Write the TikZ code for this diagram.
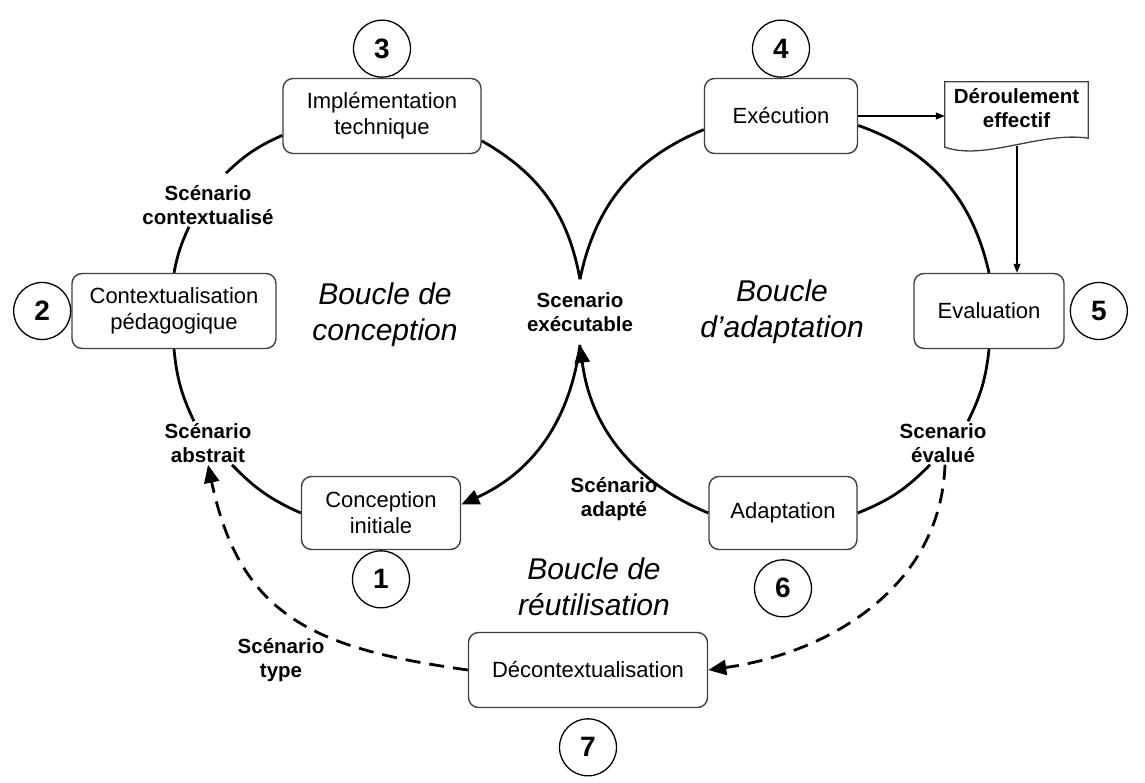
\documentclass[tikz,border=0pt]{standalone}
\usepackage{fontspec}
\setmainfont{Liberation Sans}
\usetikzlibrary{arrows.meta}
\usetikzlibrary{positioning}

\begin{document}
\begin{tikzpicture}[x=1pt,y=1pt,
	box/.style={draw=black!75, line width=1.4pt, rounded corners=10pt, align=center, inner sep=0pt, font=\fontsize{22}{26}\selectfont},
	num/.style={circle, draw, line width=1.3pt, minimum size=57pt, inner sep=0pt, font=\fontsize{28}{28}\selectfont\bfseries},
	lbl/.style={align=center, inner sep=2pt, font=\fontsize{20.5}{24}\selectfont\bfseries},
	loopname/.style={align=center, font=\fontsize{30}{36}\selectfont\itshape},
	loopline/.style={line width=2.8pt},
	bigtip/.style={-{Triangle[length=18pt,width=15pt]}},
	reuse/.style={line width=2.8pt, dash pattern=on 15pt off 9pt, -{Triangle[length=18pt,width=15pt]}},
	thinarrow/.style={line width=1.1pt, -{Triangle[length=9pt,width=7pt]}}]
	\useasboundingbox[fill=white] (0,0) rectangle (1145,783);

	\node[box, minimum width=198pt, minimum height=75pt] (impl) at (382,667) {Implémentation\\technique};
	\node[box, minimum width=204pt, minimum height=75pt] (ctx) at (174,472) {Contextualisation\\pédagogique};
	\node[box, minimum width=159pt, minimum height=73pt] (ci) at (381,270) {Conception\\initiale};
	\node[box, minimum width=153pt, minimum height=75pt] (exe) at (781,667) {Exécution};
	\node[box, minimum width=150pt, minimum height=75pt] (eval) at (989,472) {Evaluation};
	\node[box, minimum width=148pt, minimum height=73pt] (adp) at (783,270) {Adaptation};
	\node[box, minimum width=239pt, minimum height=75pt] (dec) at (588,113) {Décontextualisation};

	\node[num, left=0pt of ctx] (n2) {2};
	\node[num, above=0pt of impl] (n3) {3};
	\node[num, below=0pt of ci] (n1) {1};
	\node[num, above=0pt of exe] (n4) {4};
	\node[num, right=5pt of eval] (n5) {5};
	\node[num, below=9pt of adp] (n6) {6};
	\node[num, below=10pt of dec] (n7) {7};

	\node[lbl] (lblctx) at (208,578) {Scénario\\contextualisé};
	\node[lbl, inner ysep=13pt] (lblexe) at (580,471) {Scenario\\exécutable};
	\node[lbl] (lblabs) at (208,340) {Scénario\\abstrait};
	\node[lbl] (lblev) at (943,340) {Scenario\\évalué};
	\node[lbl] (lbladp) at (614,284) {Scénario\\adapté};
	\node[lbl] (lbltype) at (281,123) {Scénario\\type};

	\node[loopname] (bconc) at (385,468) {Boucle de\\conception};
	\node[loopname] (badap) at (782,471) {Boucle\\d’adaptation};
	\node[loopname] (breut) at (594,196) {Boucle de\\réutilisation};

	\node[lbl, minimum width=143pt, minimum height=52pt, inner sep=0pt] (doc) at (1016.5,675) {Déroulement\\effectif};
	\draw[draw=black!75, line width=1.3pt] (doc.north west) -- (doc.north east) -- ([yshift=-4pt]doc.south east) .. controls +(-48,7) and +(40,-14) .. ([yshift=-13pt]doc.south west) -- cycle;
	\coordinate (docb) at (1017,637);

	\draw[loopline] (ctx.north) to[bend left=7] ([xshift=-19pt]lblctx.south);
	\draw[loopline] ([xshift=18pt,yshift=10pt]lblctx.north) to[bend left=10] (impl.191);
	\draw[loopline] (impl.-14) to[bend left=25] (lblexe.north);
	\draw[loopline, bigtip] (lblexe.south) to[bend left=29] (ci.6);
	\draw[loopline] (ci.west) to[bend left=11] ([xshift=24pt]lblabs.south);
	\draw[loopline] ([xshift=-14pt]lblabs.north) to[bend left=10] (ctx.south);

	\draw[loopline] (lblexe.north) to[bend left=28] (exe.190);
	\draw[loopline] (exe.-7) to[bend left=29] (eval.north);
	\draw[loopline] (eval.south) to[bend left=10] ([xshift=25pt]lblev.north);
	\draw[loopline] ([xshift=-13pt]lblev.south) to[bend left=12] (adp.east);
	\draw[loopline, bigtip] (adp.west) to[bend left=30] (lblexe.south);

	\draw[reuse] ([xshift=2pt]lblev.south) to[out=-92, in=8] (dec.east);
	\draw[reuse] (dec.west) to[out=172, in=-78, looseness=1.2] (lblabs.south);

	\draw[thinarrow] (exe.east) -- (exe.east -| doc.west);
	\draw[thinarrow] (docb) -- (docb |- eval.north);
\end{tikzpicture}
\end{document}
